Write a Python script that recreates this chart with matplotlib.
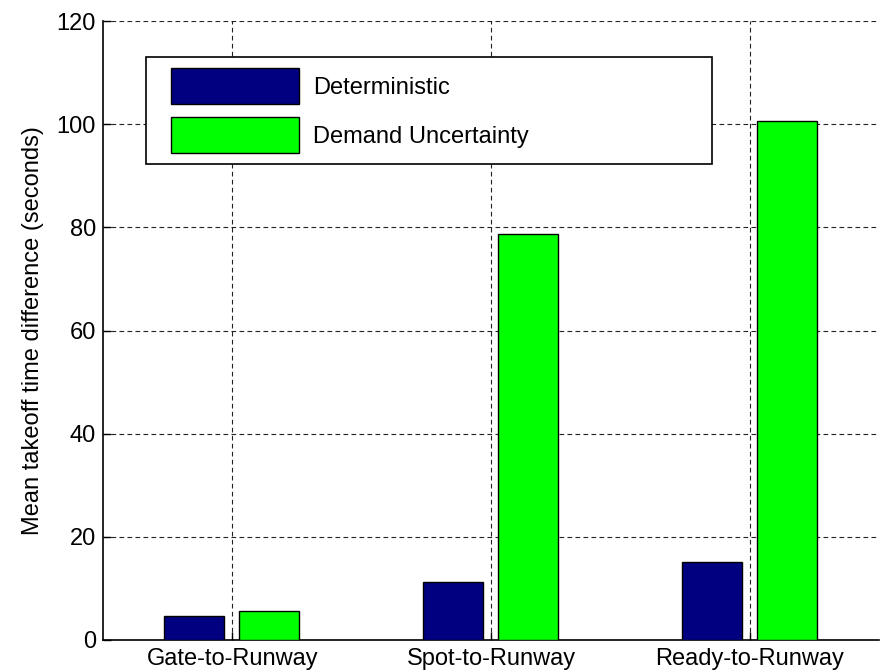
import matplotlib
matplotlib.use("Agg")
from matplotlib import pyplot as plt
from matplotlib.patches import Rectangle
import numpy as np

categories = ["Gate-to-Runway", "Spot-to-Runway", "Ready-to-Runway"]
deterministic = [4.6, 11.3, 15.1]
demand_uncertainty = [5.6, 78.7, 100.6]
series_names = ["Deterministic", "Demand Uncertainty"]
yticks = [0, 20, 40, 60, 80, 100, 120]

plt.rcParams['font.family'] = ['Liberation Sans', 'DejaVu Sans']
fs = 17

fig = plt.figure(figsize=(8.8, 6.71), dpi=100)
ax = fig.add_axes([103 / 880, 1 - 640 / 671, 776 / 880, 619 / 671])

x = np.arange(1, len(categories) + 1)
w = 0.232
ax.bar(x - 0.147, deterministic, w, color='#000080', edgecolor='black', lw=1.0,
       label=series_names[0], zorder=3)
ax.bar(x + 0.143, demand_uncertainty, w, color='#00ff00', edgecolor='black', lw=1.0,
       label=series_names[1], zorder=3)

ax.set_xlim(0.5, 3.5)
ax.set_ylim(0, 120)
ax.set_xticks(x)
ax.set_xticklabels(categories)
ax.set_yticks(yticks)
ax.tick_params(direction='in', length=6, width=1, labelsize=fs, colors='black')
ax.tick_params(axis='y', pad=5)
ax.tick_params(axis='x', pad=6)
ax.grid(True, color='#222222', lw=0.8, linestyle=(0, (4.2, 3)), zorder=1)
ax.spines['top'].set_visible(False)
ax.spines['right'].set_visible(False)
ax.spines['left'].set_linewidth(1.2)
ax.spines['bottom'].set_linewidth(1.2)
ax.set_ylabel("Mean takeoff time difference (seconds)", fontsize=fs, labelpad=9)

def to_ax(px, py):
    return (px - 103) / 776, (640 - py) / 619

# legend frame 146..712 x 57..164 px
fx0, fy0 = to_ax(146, 164)
fx1, fy1 = to_ax(712, 57)
ax.add_patch(Rectangle((fx0, fy0), fx1 - fx0, fy1 - fy0, transform=ax.transAxes,
                       facecolor='white', edgecolor='black', lw=1.2, zorder=4))

lx, ly = to_ax(171, 68)
leg = ax.legend(loc='upper left', bbox_to_anchor=(lx, ly), borderaxespad=0,
                borderpad=0, fontsize=fs, handlelength=5.42, handleheight=1.97,
                labelspacing=0.55, handletextpad=0.59, frameon=False)
leg.set_zorder(5)

plt.savefig("out.png", dpi=100)
